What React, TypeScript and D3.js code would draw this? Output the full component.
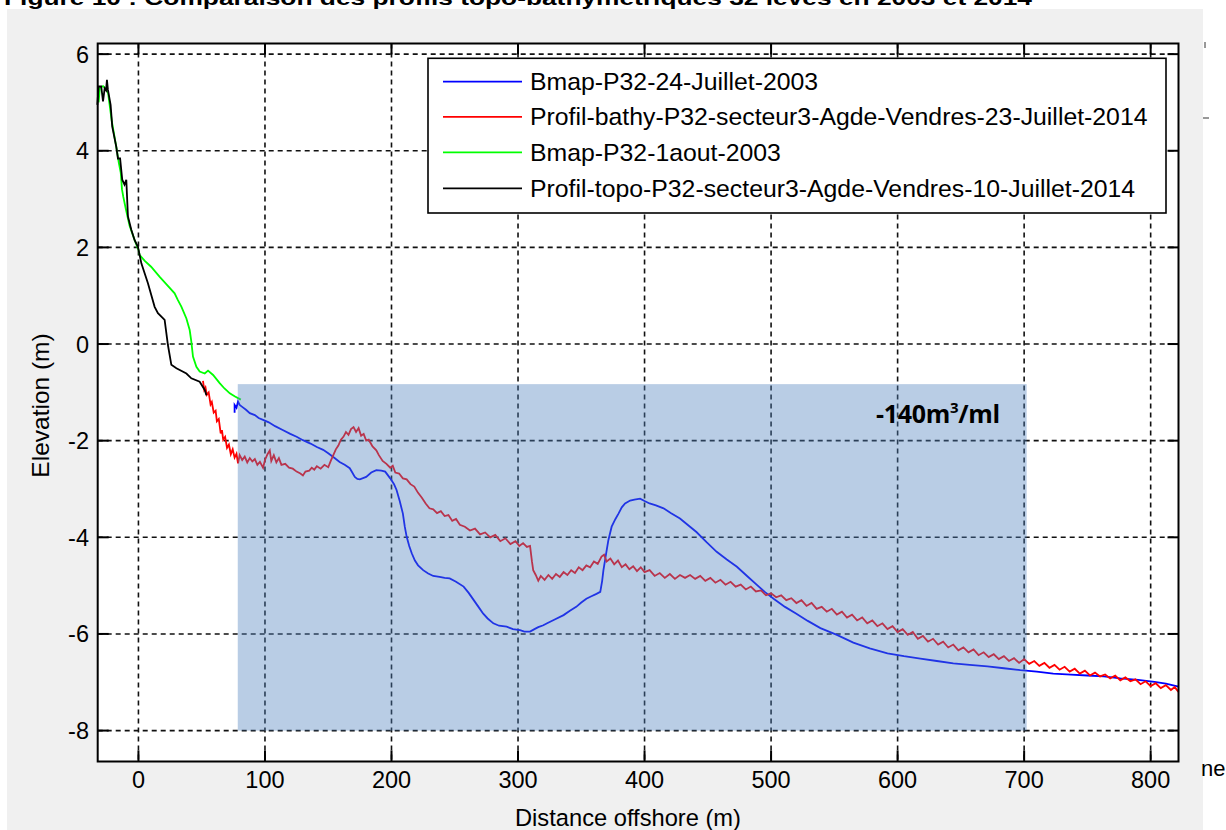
import React from "react";
import * as d3 from "d3";

// ---------- DATA ----------
const xTicks = [0, 100, 200, 300, 400, 500, 600, 700, 800];
const yTicks = [-8, -6, -4, -2, 0, 2, 4, 6];

const legendLabels = [
  "Bmap-P32-24-Juillet-2003",
  "Profil-bathy-P32-secteur3-Agde-Vendres-23-Juillet-2014",
  "Bmap-P32-1aout-2003",
  "Profil-topo-P32-secteur3-Agde-Vendres-10-Juillet-2014",
];
const seriesColors = ["#0000ff", "#ff0000", "#00ff00", "#000000"];

// Bmap-P32-24-Juillet-2003 (blue)
const bmapJuillet2003: [number, number][] = [
  [76, -1.42], [76, -1.26], [77.5, -1.32], [78.7, -1.19], [80, -1.26], [82, -1.3], [85, -1.36], [88, -1.43],
  [92, -1.47], [95, -1.53], [98.5, -1.57], [103, -1.62], [108, -1.7], [114, -1.78], [120, -1.86], [125, -1.92],
  [130, -1.99], [136, -2.06], [141, -2.13], [146, -2.19], [150, -2.26], [155, -2.36], [159, -2.44], [163, -2.5],
  [167, -2.57], [169, -2.66], [171, -2.75], [173, -2.79], [175, -2.8], [178, -2.77], [180, -2.75], [184, -2.66],
  [188, -2.61], [192, -2.62], [195, -2.64], [199, -2.78], [202, -2.9], [204, -3.02], [206.5, -3.25], [209, -3.51],
  [210.5, -3.78], [212, -3.99], [214, -4.18], [216, -4.33], [218.5, -4.48], [221, -4.58], [225, -4.68], [229, -4.75],
  [233, -4.8], [238, -4.82], [242, -4.84], [246, -4.85], [251, -4.92], [257, -5.02], [261, -5.15], [265, -5.3],
  [269, -5.45], [272.5, -5.58], [276, -5.68], [280.5, -5.78], [285, -5.83], [291, -5.85], [296, -5.9], [301.6, -5.92],
  [305, -5.95], [309.5, -5.95], [313, -5.9], [316, -5.86], [320, -5.82], [323, -5.78], [329, -5.7], [336, -5.61],
  [341, -5.52], [346, -5.44], [350, -5.35], [354, -5.27], [358, -5.22], [362, -5.17], [365, -5.13], [366.5, -4.9],
  [367.5, -4.68], [369.5, -4.36], [371.4, -4.06], [374, -3.78], [377, -3.62], [379.4, -3.51], [382, -3.38],
  [384.6, -3.3], [388.6, -3.24], [392, -3.22], [396.5, -3.2], [400, -3.25], [404, -3.3], [409, -3.34], [415, -3.4],
  [421, -3.5], [428, -3.61], [434, -3.74], [441, -3.89], [449, -4.1], [457, -4.3], [465, -4.46], [473, -4.61],
  [481, -4.8], [489, -4.99], [495, -5.13], [502, -5.27], [511, -5.44], [520, -5.58], [529, -5.73], [539, -5.88],
  [552, -6.02], [565, -6.18], [578, -6.3], [592, -6.4], [605, -6.46], [618, -6.51], [631, -6.56], [644, -6.61],
  [657, -6.64], [671, -6.67], [684, -6.71], [697, -6.75], [710, -6.78], [723, -6.82], [737, -6.84], [750, -6.86],
  [763, -6.88], [776, -6.92], [790, -6.95], [803, -6.99], [812, -7.03], [822, -7.09],
];

// Profil-bathy-P32-secteur3-Agde-Vendres-23-Juillet-2014 (red)
const bathy2014: [number, number][] = [
  [51, -0.76], [52, -0.95], [53, -0.9], [54, -1.05], [55.5, -1.0], [57, -1.25], [58, -1.2], [59.5, -1.42],
  [61, -1.38], [62, -1.6], [63.5, -1.55], [65, -1.85], [66, -1.78], [67, -1.98], [68.5, -1.92], [70, -2.15],
  [71.5, -2.08], [73, -2.28], [74.5, -2.18], [76, -2.35], [77.5, -2.27], [78.7, -2.47], [80, -2.3], [82, -2.4],
  [84, -2.33], [86, -2.45], [88, -2.36], [90, -2.43], [92, -2.38], [94, -2.5], [96, -2.44], [98.5, -2.56],
  [100, -2.4], [102, -2.28], [103.8, -2.2], [105, -2.42], [107, -2.3], [109, -2.45], [111, -2.36], [113, -2.5],
  [116, -2.48], [119, -2.56], [122, -2.58], [125, -2.64], [128, -2.68], [130, -2.72], [132, -2.64], [135, -2.62],
  [137, -2.56], [139, -2.6], [141, -2.53], [144, -2.58], [147, -2.5], [150, -2.55], [152, -2.42], [154, -2.3],
  [156, -2.18], [158, -2.1], [160, -1.98], [162, -1.92], [164, -1.82], [166, -1.88], [168, -1.76], [170, -1.72],
  [172, -1.82], [174, -1.74], [176, -1.9], [178, -1.86], [180, -2.0], [182, -1.98], [185, -2.12], [188, -2.2],
  [190, -2.3], [193, -2.42], [196, -2.48], [199, -2.56], [201, -2.52], [203, -2.66], [206, -2.68], [209, -2.78],
  [212, -2.8], [215, -2.9], [218, -2.95], [221, -3.08], [224, -3.18], [227, -3.3], [230, -3.4], [233, -3.42],
  [236, -3.5], [239, -3.46], [242, -3.56], [245, -3.54], [248, -3.66], [251, -3.62], [254, -3.74], [258, -3.78],
  [262, -3.86], [266, -3.82], [270, -3.94], [274, -3.9], [278, -4.0], [282, -3.95], [286, -4.08], [290, -4.02],
  [294, -4.14], [298, -4.08], [301, -4.18], [304, -4.12], [307, -4.2], [309.5, -4.18], [311, -4.5], [312, -4.68],
  [314, -4.78], [316, -4.9], [318, -4.8], [321, -4.88], [324, -4.78], [327, -4.86], [330, -4.76], [333, -4.82],
  [336, -4.72], [339, -4.78], [342, -4.68], [345, -4.74], [348, -4.62], [351, -4.68], [354, -4.58], [357, -4.62],
  [360, -4.5], [363, -4.55], [366, -4.4], [368, -4.36], [370, -4.5], [373, -4.44], [376, -4.56], [379, -4.48],
  [382, -4.62], [385, -4.56], [388, -4.66], [391, -4.6], [394, -4.7], [397, -4.62], [400, -4.72], [404, -4.68],
  [408, -4.8], [412, -4.74], [416, -4.84], [420, -4.76], [424, -4.86], [428, -4.78], [432, -4.84], [436, -4.78],
  [440, -4.86], [444, -4.8], [448, -4.9], [452, -4.84], [456, -4.94], [460, -4.88], [464, -4.98], [468, -4.92],
  [472, -5.02], [476, -4.98], [480, -5.08], [484, -5.02], [488, -5.12], [492, -5.1], [496, -5.2], [500, -5.16],
  [504, -5.24], [508, -5.2], [512, -5.3], [516, -5.26], [520, -5.36], [524, -5.3], [528, -5.42], [532, -5.36],
  [536, -5.48], [540, -5.44], [544, -5.54], [548, -5.48], [552, -5.6], [556, -5.54], [560, -5.66], [564, -5.6],
  [568, -5.72], [572, -5.66], [576, -5.78], [580, -5.72], [584, -5.84], [588, -5.78], [592, -5.9], [596, -5.84],
  [600, -5.96], [604, -5.9], [608, -6.02], [612, -5.96], [616, -6.1], [620, -6.04], [624, -6.16], [628, -6.1],
  [632, -6.22], [636, -6.16], [640, -6.28], [644, -6.22], [648, -6.34], [652, -6.28], [656, -6.38], [660, -6.32],
  [664, -6.44], [668, -6.38], [672, -6.48], [676, -6.42], [680, -6.52], [684, -6.46], [688, -6.56], [692, -6.5],
  [696, -6.6], [700, -6.52], [704, -6.62], [708, -6.56], [712, -6.66], [716, -6.6], [720, -6.7], [724, -6.64],
  [728, -6.74], [732, -6.68], [736, -6.78], [740, -6.72], [744, -6.82], [748, -6.76], [752, -6.86], [756, -6.8],
  [760, -6.88], [764, -6.84], [768, -6.92], [772, -6.86], [776, -6.96], [780, -6.9], [784, -6.98], [788, -6.94],
  [792, -7.04], [796, -6.98], [800, -7.08], [804, -7.02], [808, -7.12], [812, -7.06], [816, -7.16], [819, -7.1],
  [822, -7.2],
];

// Bmap-P32-1aout-2003 (green)
const bmapAout2003: [number, number][] = [
  [-31.5, 5.0], [-30.5, 5.3], [-28, 5.34], [-26.5, 5.3], [-24, 5.2], [-22.5, 4.9], [-21, 4.6], [-19, 4.3],
  [-17, 4.0], [-15.5, 3.75], [-14, 3.55], [-13, 3.2], [-12, 3.05], [-10, 2.8], [-7, 2.45], [-5, 2.3], [-3, 2.15],
  [0, 1.95], [1, 1.84], [5, 1.72], [10, 1.6], [16.8, 1.39], [22, 1.24], [28.6, 1.05], [31, 0.92], [34, 0.77],
  [37.9, 0.53], [40.5, 0.29], [41.8, 0.05], [43.1, -0.26], [45.8, -0.47], [48.4, -0.57], [52.4, -0.61],
  [55, -0.55], [59, -0.64], [64.2, -0.81], [68, -0.92], [72.2, -1.02], [76, -1.08], [80.9, -1.15],
];

// Profil-topo-P32-secteur3-Agde-Vendres-10-Juillet-2014 (black)
const topo2014: [number, number][] = [
  [-32.5, 4.95], [-31.5, 5.33], [-29.4, 5.33], [-28, 5.02], [-26.7, 5.29], [-25.6, 5.25], [-24.9, 5.47],
  [-24.1, 5.26], [-22, 4.95], [-20.7, 4.5], [-17.5, 4.08], [-16.2, 3.84], [-14.5, 3.84], [-12.8, 3.4],
  [-11, 3.3], [-9.6, 3.4], [-8.3, 2.64], [-5.6, 2.36], [-3, 2.15], [-0.4, 2.01], [2.3, 1.67], [7.5, 1.26],
  [12.8, 0.77], [15.4, 0.64], [20.7, 0.5], [23.3, -0.02], [26, -0.43], [30, -0.5], [37.9, -0.61],
  [41.8, -0.71], [48.4, -0.78], [52.4, -0.95], [53.7, -1.06],
];

const seriesData = [bmapJuillet2003, bathy2014, bmapAout2003, topo2014];

// shaded area (volume annotation)
const shadeX = [78.5, 702];
const shadeY = [-8, -0.83];
const shadeLabel = "-140m";

const title =
  "Figure 10 : Comparaison des profils topo-bathymétriques 32 levés en 2003 et 2014";

// ---------- LAYOUT ----------
const W = 1226;
const H = 830;
const PL = 97.7;
const PR = 1178.5;
const PT = 43.5;
const PB = 761.5;
const FONT = "'Liberation Sans', Arial, sans-serif";

export default function App() {
  const x = d3.scaleLinear().domain([-32.2, 822]).range([PL, PR]);
  const y = d3.scaleLinear().domain([-8.64, 6.22]).range([PB, PT]);
  const line = d3
    .line<[number, number]>()
    .x((d) => x(d[0]))
    .y((d) => y(d[1]));

  const tickLen = 11;
  const legendRowY = [81.7, 116.9, 152.3, 188.3];

  return (
    <svg
      width={W}
      height={H}
      style={{ position: "absolute", left: 0, top: 0, background: "#fff" }}
      fontFamily={FONT}
    >
      <rect x={0} y={0} width={W} height={H} fill="#ffffff" />
      {/* figure grey background */}
      <rect x={7} y={9} width={1196} height={H - 9} fill="#f0f0f0" />
      {/* clipped title */}
      <text x={4} y={5} fontSize={21} fontWeight="bold" fill="#000" textLength={1028} lengthAdjust="spacingAndGlyphs">
        {title}
      </text>
      {/* right-side artifacts */}
      <line x1={1205} x2={1205} y1={42} y2={48} stroke="#333" strokeWidth={1} />
      <line x1={1203} x2={1209} y1={118} y2={118} stroke="#333" strokeWidth={1} />
      <text x={1201} y={776} fontSize={22} fill="#000">ne</text>

      {/* axes background */}
      <rect x={PL} y={PT} width={PR - PL} height={PB - PT} fill="#ffffff" />

      {/* grid */}
      <g stroke="#111" strokeWidth={1.6} strokeDasharray="5,4">
        {xTicks.map((t) => (
          <line key={"gx" + t} x1={x(t)} x2={x(t)} y1={PT} y2={PB} />
        ))}
        {yTicks.map((t) => (
          <line key={"gy" + t} x1={PL} x2={PR} y1={y(t)} y2={y(t)} />
        ))}
      </g>

      {/* series */}
      <g fill="none" strokeWidth={1.8} strokeLinejoin="miter">
        {seriesData.map((s, i) => (
          <path key={"s" + i} d={line(s) || ""} stroke={seriesColors[i]} />
        ))}
      </g>

      {/* semi-transparent shaded block */}
      <rect
        x={x(shadeX[0])}
        y={y(shadeY[1])}
        width={x(shadeX[1]) - x(shadeX[0])}
        height={y(shadeY[0]) - y(shadeY[1])}
        fill="#4F81BD"
        fillOpacity={0.4}
      />
      <text x={876} y={423} fontSize={25} fontWeight="bold" fill="#000" fontFamily="'Open Sans', 'Liberation Sans', sans-serif" letterSpacing={-0.3}>
        {shadeLabel}
        <tspan dy={-10} fontSize={15}>3</tspan>
        <tspan dy={10}>/ml</tspan>
      </text>

      {/* axes box */}
      <rect x={PL} y={PT} width={PR - PL} height={PB - PT} fill="none" stroke="#000" strokeWidth={2} />
      <g stroke="#000" strokeWidth={2}>
        {xTicks.map((t) => (
          <g key={"tx" + t}>
            <line x1={x(t)} x2={x(t)} y1={PB} y2={PB - tickLen} />
            <line x1={x(t)} x2={x(t)} y1={PT} y2={PT + tickLen} />
          </g>
        ))}
        {yTicks.map((t) => (
          <g key={"ty" + t}>
            <line x1={PL} x2={PL + tickLen} y1={y(t)} y2={y(t)} />
            <line x1={PR} x2={PR - tickLen} y1={y(t)} y2={y(t)} />
          </g>
        ))}
      </g>

      {/* tick labels */}
      <g fontSize={23.5} fill="#000">
        {xTicks.map((t) => (
          <text key={"lx" + t} x={x(t)} y={788} textAnchor="middle">
            {t}
          </text>
        ))}
        {yTicks.map((t) => (
          <text key={"ly" + t} x={89} y={y(t) + 8.5} textAnchor="end">
            {t}
          </text>
        ))}
      </g>

      {/* axis labels */}
      <text x={628} y={826} fontSize={23.7} textAnchor="middle" fill="#000">
        Distance offshore (m)
      </text>
      <text
        transform={`translate(49, ${(PT + PB) / 2 + 3}) rotate(-90)`}
        fontSize={24.5}
        textAnchor="middle"
        fill="#000"
      >
        Elevation (m)
      </text>

      {/* legend */}
      <rect x={428} y={58.3} width={738} height={154.7} fill="#ffffff" stroke="#000" strokeWidth={1.6} />
      {legendRowY.map((ry, i) => (
        <g key={"lg" + i}>
          <line x1={443} x2={522} y1={ry} y2={ry} stroke={seriesColors[i]} strokeWidth={1.8} />
          <text x={530} y={ry + 8.5} fontSize={24.8} fill="#000">
            {legendLabels[i]}
          </text>
        </g>
      ))}
    </svg>
  );
}
